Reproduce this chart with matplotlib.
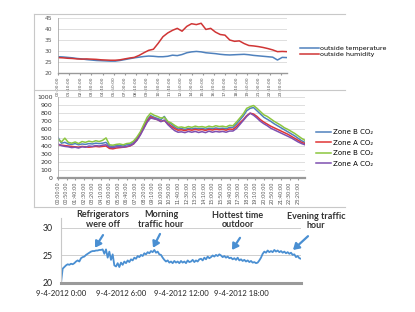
import numpy as np
import matplotlib
matplotlib.use("Agg")
import matplotlib.pyplot as plt
from matplotlib.lines import Line2D

# ---------------- data ----------------
# Panel 1: outside conditions, 30-min steps over 24 h
p1_hours = [i * 0.5 for i in range(49)]
outside_temperature = [27.4, 27.3, 27.1, 26.9, 26.6, 26.4, 26.1, 25.9, 25.7, 25.6,
                       25.5, 25.4, 25.4, 25.7, 26.1, 26.5, 26.9, 27.2, 27.5, 27.7,
                       27.6, 27.4, 27.4, 27.6, 28.1, 27.9, 28.4, 29.2, 29.6, 29.8,
                       29.6, 29.2, 29.0, 28.8, 28.5, 28.3, 28.2, 28.3, 28.4, 28.5,
                       28.3, 28.0, 27.8, 27.6, 27.4, 27.2, 25.9, 27.1, 27.0]
outside_humidity = [27.0, 26.9, 26.7, 26.6, 26.4, 26.3, 26.4, 26.3, 26.2, 26.0,
                    25.9, 25.8, 25.8, 26.0, 26.4, 26.8, 27.1, 28.0, 29.2, 30.3,
                    30.8, 33.5, 36.5, 38.2, 39.4, 40.3, 39.0, 41.2, 42.4, 42.0,
                    42.6, 39.8, 40.3, 38.6, 37.5, 37.2, 35.0, 34.4, 34.6, 33.4,
                    32.5, 32.3, 32.0, 31.6, 31.1, 30.5, 29.7, 29.8, 29.7]
p1_tick_labels = ["00:00:00", "01:10:00", "02:20:00", "03:30:00", "04:40:00", "05:50:00",
                  "07:00:00", "08:10:00", "09:20:00", "10:30:00", "11:40:00", "12:50:00",
                  "14:00:00", "15:10:00", "16:20:00", "17:30:00", "18:40:00", "19:50:00",
                  "21:00:00", "22:10:00", "23:20:00"]
p1_tick_hours = [i * 70 / 60 for i in range(21)]

# Panel 2: CO2 per zone, 20-min steps over 24 h
p2_hours = [i / 3 for i in range(73)]
zone_b1 = [500, 430, 440, 420, 415, 425, 410, 420, 415, 425, 420, 430, 425, 430, 440,
           395, 390, 400, 400, 395, 410, 415, 440, 490, 555, 640, 720, 770, 750, 735,
           720, 760, 690, 665, 630, 605, 610, 600, 612, 605, 615, 608, 612, 603, 615,
           608, 618, 610, 615, 607, 625, 625, 665, 715, 765, 830, 860, 870, 830, 790,
           750, 725, 700, 670, 645, 620, 595, 570, 545, 520, 490, 460, 440]
zone_a1 = [410, 405, 400, 395, 390, 385, 380, 390, 385, 380, 385, 390, 385, 390, 395,
           365, 360, 370, 375, 380, 385, 395, 420, 470, 540, 620, 700, 755, 735, 720,
           700, 710, 670, 640, 610, 590, 595, 585, 598, 590, 600, 592, 598, 588, 600,
           592, 602, 595, 600, 590, 605, 600, 635, 680, 720, 770, 800, 790, 760, 720,
           690, 665, 640, 620, 600, 580, 560, 540, 515, 490, 465, 440, 425]
zone_b2 = [480, 445, 492, 440, 430, 445, 425, 450, 440, 455, 445, 460, 450, 465, 495,
           410, 405, 415, 420, 410, 425, 430, 455, 505, 570, 660, 750, 800, 775, 760,
           740, 750, 700, 680, 650, 625, 630, 620, 635, 625, 640, 630, 635, 625, 640,
           630, 645, 635, 640, 630, 650, 645, 690, 740, 790, 860, 880, 895, 860, 820,
           780, 760, 730, 700, 675, 650, 620, 600, 575, 550, 520, 490, 465]
zone_a2 = [420, 400, 390, 385, 375, 380, 370, 385, 380, 395, 390, 400, 395, 405, 410,
           380, 375, 385, 385, 380, 390, 400, 420, 465, 530, 610, 690, 740, 730, 720,
           695, 715, 660, 620, 585, 565, 570, 560, 575, 565, 575, 562, 572, 560, 578,
           565, 575, 568, 575, 565, 580, 580, 610, 660, 710, 760, 800, 775, 740, 700,
           670, 645, 615, 595, 575, 555, 535, 515, 495, 470, 445, 425, 410]
p2_tick_labels = ["00:00:00", "00:50:00", "01:40:00", "02:30:00", "03:20:00", "04:10:00",
                  "05:00:00", "05:50:00", "06:40:00", "07:30:00", "08:20:00", "09:10:00",
                  "10:00:00", "10:50:00", "11:40:00", "12:30:00", "13:20:00", "14:10:00",
                  "15:00:00", "15:50:00", "16:40:00", "17:30:00", "18:20:00", "19:10:00",
                  "20:00:00", "20:50:00", "21:40:00", "22:30:00", "23:20:00"]
p2_tick_hours = [i * 50 / 60 for i in range(29)]
p2_legend = ["Zone B CO\u2082", "Zone A CO\u2082", "Zone B CO\u2082", "Zone A CO\u2082"]

# Panel 3: indoor temperature, 10-min steps over 24 h
p3_hours = [i / 6 for i in range(145)]
indoor_temp = [20.0, 22.6, 22.9, 23.2, 23.4, 23.3,
               23.5, 23.4, 23.6, 23.9, 24.1, 23.9,
               24.5, 24.7, 24.8, 25.1, 25.3, 25.5,
               25.7, 25.8, 25.8, 25.9, 25.9, 26.0,
               26.0, 26.1, 25.3, 26.1, 24.6, 25.7,
               24.2, 25.2, 23.2, 23.0, 23.6, 22.9,
               23.7, 23.3, 23.9, 23.6, 24.1, 23.8,
               24.3, 24.1, 24.6, 24.4, 24.9, 24.7,
               25.1, 24.9, 25.4, 25.2, 25.6, 25.4,
               25.8, 25.6, 26.0, 25.5, 25.7, 25.2,
               25.1, 24.6, 24.2, 23.9, 24.1, 23.7,
               23.9, 23.6, 24.0, 23.7, 23.9, 23.6,
               24.0, 23.7, 23.9, 23.6, 24.1, 23.8,
               23.9, 24.2, 23.8, 24.1, 23.9, 24.3,
               24.4, 24.1, 24.6, 24.3, 24.8, 24.5,
               24.7, 25.0, 24.8, 25.1, 24.9, 25.2,
               25.0, 24.7, 24.9, 24.6, 24.8, 24.5,
               24.6, 24.3, 24.5, 24.2, 24.6, 24.1,
               24.3, 24.0, 24.2, 23.9, 24.1, 23.8,
               24.0, 23.7, 23.8, 23.6, 23.7, 24.1,
               24.6, 25.3, 25.7, 25.5, 25.9, 25.6,
               25.8, 25.6, 26.0, 25.7, 25.9, 25.6,
               25.8, 25.5, 25.7, 25.4, 25.6, 25.3,
               25.5, 25.1, 25.2, 24.7, 24.9, 24.5,
               24.4]
p3_tick_hours = [0, 6, 12, 18]
p3_tick_labels = ["9-4-2012 0:00", "9-4-2012 6:00", "9-4-2012 12:00", "9-4-2012 18:00"]
p3_yticks = [20, 25, 30]
p3_notes = ["Refrigerators\nwere off", "Morning\ntraffic hour",
            "Hottest time\noutdoor", "Evening traffic\nhour"]

# ---------------- figure ----------------
W, H = 415, 312
fig = plt.figure(figsize=(W / 100, H / 100), dpi=100)
fig.patch.set_facecolor("white")


def rect(x0, y0, x1, y1):
    return [x0 / W, 1 - y1 / H, (x1 - x0) / W, (y1 - y0) / H]


def hline(x0, x1, y, color="#c8c8c8", lw=0.8):
    fig.add_artist(Line2D([x0 / W, x1 / W], [1 - y / H, 1 - y / H],
                          transform=fig.transFigure, color=color, lw=lw))


def vline(x, y0, y1, color="#c8c8c8", lw=0.8):
    fig.add_artist(Line2D([x / W, x / W], [1 - y0 / H, 1 - y1 / H],
                          transform=fig.transFigure, color=color, lw=lw))


# frames of the two upper chart boxes
hline(34, 345, 14)
hline(34, 345, 90)
hline(34, 345, 207)
vline(34, 14, 207)

grid_c = "#d9d9d9"
tick_c = "#555555"

# ---- Panel 1 ----
ax1 = fig.add_axes(rect(58, 18, 287, 73))
l_t, = ax1.plot(p1_hours, outside_temperature, color="#4F81BD", lw=1.1)
l_h, = ax1.plot(p1_hours, outside_humidity, color="#D03535", lw=1.1)
ax1.set_xlim(0, 24)
ax1.set_ylim(20, 45)
ax1.set_yticks(range(20, 46, 5))
ax1.set_xticks(p1_tick_hours)
ax1.set_xticklabels(p1_tick_labels, rotation=90, fontsize=3.2, color=tick_c)
ax1.tick_params(axis="y", labelsize=4.3, labelcolor=tick_c, length=0, pad=4)
ax1.tick_params(axis="x", length=1.5, color="#999999", pad=1)
ax1.grid(axis="y", color=grid_c, lw=0.6)
ax1.set_axisbelow(True)
for s in ["top", "right"]:
    ax1.spines[s].set_visible(False)
ax1.spines["left"].set_color("#aaaaaa")
ax1.spines["left"].set_linewidth(0.6)
ax1.spines["bottom"].set_color("#999999")
ax1.spines["bottom"].set_linewidth(1.0)
ax1.legend([l_t, l_h], ["outside temperature", "outside humidity"],
           loc="center left", bbox_to_anchor=(300 / W, 1 - 51.5 / H),
           bbox_transform=fig.transFigure, frameon=False, fontsize=4.6,
           handlelength=2.9, handletextpad=0.3, labelspacing=0.15,
           borderpad=0, borderaxespad=0)

# ---- Panel 2 ----
ax2 = fig.add_axes(rect(58, 97, 305, 178))
c2 = ["#4F81BD", "#E03535", "#8CC63F", "#7E4FB0"]
lines2 = []
for ys, c in zip([zone_b1, zone_a1, zone_b2, zone_a2], c2):
    ln, = ax2.plot(p2_hours, ys, color=c, lw=1.1)
    lines2.append(ln)
ax2.set_xlim(0, 24)
ax2.set_ylim(0, 1000)
ax2.set_yticks(range(0, 1001, 100))
ax2.set_xticks(p2_tick_hours)
ax2.set_xticklabels(p2_tick_labels, rotation=90, fontsize=3.6, color=tick_c)
ax2.tick_params(axis="y", labelsize=4.5, labelcolor="#333333", length=0, pad=4)
ax2.tick_params(axis="x", length=1.5, color="#999999", pad=1)
ax2.grid(axis="y", color=grid_c, lw=0.6)
ax2.set_axisbelow(True)
for s in ["top", "right"]:
    ax2.spines[s].set_visible(False)
ax2.spines["left"].set_color("#aaaaaa")
ax2.spines["left"].set_linewidth(0.6)
ax2.spines["bottom"].set_color("#999999")
ax2.spines["bottom"].set_linewidth(1.6)
ax2.legend(lines2, p2_legend, loc="center left",
           bbox_to_anchor=(316 / W, 1 - 148 / H), bbox_transform=fig.transFigure,
           frameon=False, fontsize=5.0, handlelength=2.2, handletextpad=0.3,
           labelspacing=0.65, borderpad=0, borderaxespad=0)

# ---- Panel 3 ----
ax3 = fig.add_axes(rect(61, 218, 301, 283))
blue3 = "#4A8FD2"
ax3.plot(p3_hours, indoor_temp, color=blue3, lw=1.3)
ax3.set_xlim(0, 24)
ax3.set_ylim(20, 31.8)
ax3.set_yticks(p3_yticks)
ax3.set_yticklabels([str(v) for v in p3_yticks], fontsize=6.3, color="#222222",
                    family="Lato")
ax3.set_xticks(p3_tick_hours)
ax3.set_xticklabels(p3_tick_labels, fontsize=5.6, color="#222222", family="Lato")
ax3.tick_params(axis="y", length=0, pad=6)
ax3.tick_params(axis="x", length=0, pad=5)
ax3.grid(axis="y", color="#cfcfcf", lw=0.7)
ax3.set_axisbelow(True)
for s in ["top", "right"]:
    ax3.spines[s].set_visible(False)
ax3.spines["left"].set_color("#c8c8c8")
ax3.spines["left"].set_linewidth(0.8)
ax3.spines["bottom"].set_color("#9a9a9a")
ax3.spines["bottom"].set_linewidth(2.2)

note_text_xy = [(4.2, 31.55), (10.0, 31.55), (17.65, 31.4), (25.5, 31.3)]
note_tail = [(4.2, 28.7), (9.9, 28.9), (17.9, 28.2), (24.7, 28.5)]
note_head = [(3.4, 26.4), (9.2, 26.4), (17.1, 26.0), (23.2, 26.0)]
for txt, txy, tail, head in zip(p3_notes, note_text_xy, note_tail, note_head):
    ax3.text(txy[0], txy[1], txt, ha="center", va="center", fontsize=6.5,
             family="Lato", fontweight="bold", color="#333333",
             linespacing=1.05, clip_on=False)
    ax3.annotate("", xy=head, xytext=tail, annotation_clip=False,
                 arrowprops=dict(arrowstyle="-|>,head_length=0.35,head_width=0.22",
                                 color=blue3, lw=1.6, shrinkA=0, shrinkB=0))

fig.savefig("out.png", dpi=100, facecolor="white")
